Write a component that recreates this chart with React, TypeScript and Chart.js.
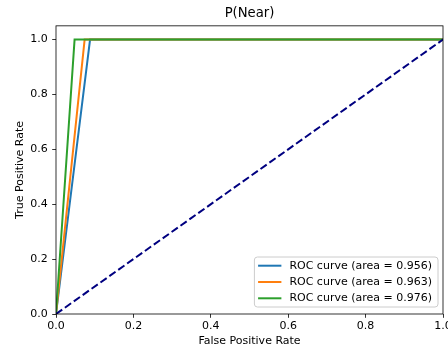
import React, { useEffect, useRef } from "react";
import { Chart, registerables } from "chart.js";

Chart.register(...registerables);

const chartTitle = "P(Near)";
const xAxisLabel = "False Positive Rate";
const yAxisLabel = "True Positive Rate";
const tickValues = [0, 0.2, 0.4, 0.6, 0.8, 1.0];
const seriesLabels = [
  "ROC curve (area = 0.956)",
  "ROC curve (area = 0.963)",
  "ROC curve (area = 0.976)",
];
const seriesColors = ["#1f77b4", "#ff7f0e", "#2ca02c"];
const fprBlue = [0, 0.088, 1];
const tprBlue = [0, 1, 1];
const fprOrange = [0, 0.074, 1];
const tprOrange = [0, 1, 1];
const fprGreen = [0, 0.048, 1];
const tprGreen = [0, 1, 1];
const chanceX = [0, 1];
const chanceY = [0, 1];

const FONT = "'DejaVu Sans', sans-serif";
const FS = 11;

const toPoints = (xs: number[], ys: number[]) => xs.map((x, i) => ({ x, y: ys[i] }));

const framePlugin = {
  id: "frameAndLegend",
  afterDraw(chart: any) {
    const { ctx, chartArea } = chart;
    ctx.save();
    // frame (spines)
    ctx.strokeStyle = "#000";
    ctx.lineWidth = 0.8;
    ctx.strokeRect(
      chartArea.left,
      chartArea.top,
      chartArea.right - chartArea.left,
      chartArea.bottom - chartArea.top
    );
    // legend
    ctx.font = `${FS}px ${FONT}`;
    let maxW = 0;
    seriesLabels.forEach((t) => {
      maxW = Math.max(maxW, ctx.measureText(t).width);
    });
    const rowH = 16.3;
    const boxW = 35 + maxW + 6;
    const boxH = 50;
    const right = chartArea.right - 5;
    const bottom = chartArea.bottom - 7;
    const left = right - boxW;
    const top = bottom - boxH;
    const r = 3;
    ctx.beginPath();
    ctx.moveTo(left + r, top);
    ctx.lineTo(right - r, top);
    ctx.quadraticCurveTo(right, top, right, top + r);
    ctx.lineTo(right, bottom - r);
    ctx.quadraticCurveTo(right, bottom, right - r, bottom);
    ctx.lineTo(left + r, bottom);
    ctx.quadraticCurveTo(left, bottom, left, bottom - r);
    ctx.lineTo(left, top + r);
    ctx.quadraticCurveTo(left, top, left + r, top);
    ctx.closePath();
    ctx.fillStyle = "rgba(255,255,255,0.8)";
    ctx.fill();
    ctx.strokeStyle = "#cccccc";
    ctx.lineWidth = 1;
    ctx.stroke();
    ctx.textAlign = "left";
    ctx.textBaseline = "middle";
    seriesLabels.forEach((t, i) => {
      const y = top + 8.7 + i * rowH;
      ctx.strokeStyle = seriesColors[i];
      ctx.lineWidth = 2;
      ctx.beginPath();
      ctx.moveTo(left + 3.7, y);
      ctx.lineTo(left + 27, y);
      ctx.stroke();
      ctx.fillStyle = "#000";
      ctx.fillText(t, left + 35, y);
    });
    ctx.restore();
  },
};

export default function App() {
  const ref = useRef<HTMLCanvasElement | null>(null);

  useEffect(() => {
    if (!ref.current) return;
    const tickFont = { family: FONT, size: FS };
    const chart = new Chart(ref.current, {
      type: "line",
      data: {
        datasets: [
          {
            label: seriesLabels[0],
            data: toPoints(fprBlue, tprBlue),
            borderColor: seriesColors[0],
            borderWidth: 2,
            pointRadius: 0,
            order: 3,
          },
          {
            label: seriesLabels[1],
            data: toPoints(fprOrange, tprOrange),
            borderColor: seriesColors[1],
            borderWidth: 2,
            pointRadius: 0,
            order: 2,
          },
          {
            label: seriesLabels[2],
            data: toPoints(fprGreen, tprGreen),
            borderColor: seriesColors[2],
            borderWidth: 2,
            pointRadius: 0,
            order: 1,
          },
          {
            label: "chance",
            data: toPoints(chanceX, chanceY),
            borderColor: "#000080",
            borderWidth: 2,
            borderDash: [7.6, 3.3],
            pointRadius: 0,
            order: 0,
          },
        ],
      },
      options: {
        animation: false,
        responsive: false,
        devicePixelRatio: 1,
        layout: { padding: { left: 0, right: 5, top: 0, bottom: 0 } },
        plugins: {
          legend: { display: false },
          tooltip: { enabled: false },
          title: {
            display: true,
            text: chartTitle,
            fullSize: false,
            color: "#000",
            font: { family: FONT, size: 13.2, weight: "normal" },
            padding: { top: 6, bottom: 4 },
          },
        },
        scales: {
          x: {
            type: "linear",
            min: 0,
            max: 1,
            afterBuildTicks: (scale: any) => {
              scale.ticks = tickValues.map((v) => ({ value: v }));
            },
            afterFit: (scale: any) => {
              scale.height = 34;
              scale.paddingLeft = 0;
              scale.paddingRight = 0;
            },
            ticks: {
              color: "#000",
              font: tickFont,
              padding: 2,
              maxRotation: 0,
              autoSkip: false,
              callback: (v: any) => Number(v).toFixed(1),
            },
            grid: {
              display: true,
              drawOnChartArea: false,
              drawTicks: true,
              tickLength: 3.8,
              color: "#000",
              lineWidth: 0.8,
            },
            border: { display: false },
            title: {
              display: true,
              text: xAxisLabel,
              color: "#000",
              font: tickFont,
              padding: { top: 0, bottom: 0.5 },
            },
          },
          y: {
            type: "linear",
            min: 0,
            max: 1.05,
            afterBuildTicks: (scale: any) => {
              scale.ticks = tickValues.map((v) => ({ value: v }));
            },
            afterFit: (scale: any) => {
              scale.width = 56;
              scale.paddingTop = 0;
              scale.paddingBottom = 0;
            },
            ticks: {
              color: "#000",
              font: tickFont,
              padding: 4.5,
              autoSkip: false,
              callback: (v: any) => Number(v).toFixed(1),
            },
            grid: {
              display: true,
              drawOnChartArea: false,
              drawTicks: true,
              tickLength: 3.8,
              color: "#000",
              lineWidth: 0.8,
            },
            border: { display: false },
            title: {
              display: true,
              text: yAxisLabel,
              color: "#000",
              font: tickFont,
              padding: { top: 14, bottom: 0 },
            },
          },
        },
      },
      plugins: [framePlugin],
    });
    return () => chart.destroy();
  }, []);

  return (
    <div style={{ position: "absolute", left: 0, top: 0, width: 448, height: 348, background: "#fff" }}>
      <canvas ref={ref} width={448} height={348} style={{ width: 448, height: 348, display: "block" }} />
    </div>
  );
}
